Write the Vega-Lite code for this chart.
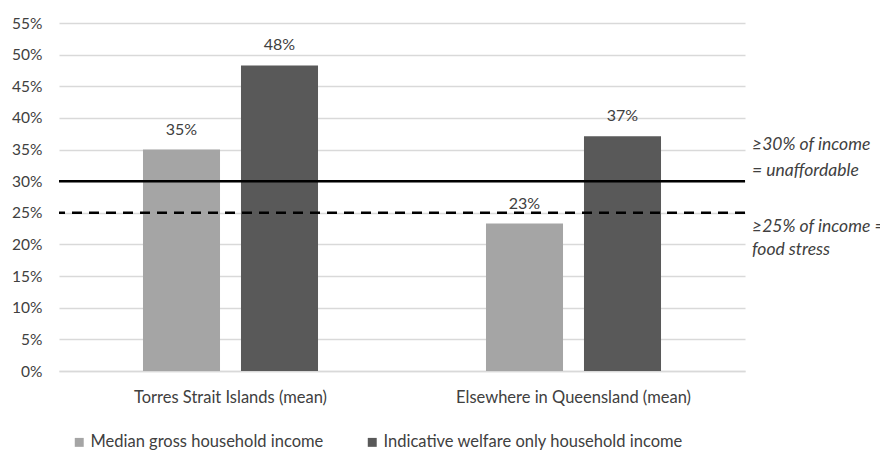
{
  "$schema": "https://vega.github.io/schema/vega-lite/v6.json",
  "width": 686,
  "height": 348,
  "autosize": {"type": "none"},
  "padding": {"left": 59, "top": 23, "right": 135, "bottom": 81},
  "background": "white",
  "config": {
    "view": {"stroke": null},
    "font": "Lato",
    "text": {"font": "Lato"}
  },
  "datasets": {
    "bars": [
      {"region": "Torres Strait Islands (mean)", "series": "Median gross household income", "value": 35.0, "label": "35%"},
      {"region": "Torres Strait Islands (mean)", "series": "Indicative welfare only household income", "value": 48.3, "label": "48%"},
      {"region": "Elsewhere in Queensland (mean)", "series": "Median gross household income", "value": 23.3, "label": "23%"},
      {"region": "Elsewhere in Queensland (mean)", "series": "Indicative welfare only household income", "value": 37.1, "label": "37%"}
    ],
    "thresholds": [
      {"value": 30, "kind": "solid"},
      {"value": 25, "kind": "dashed"}
    ],
    "notes": [
      {"region": "Elsewhere in Queensland (mean)", "value": 30, "text": ["≥30% of income", "= unaffordable"]},
      {"region": "Elsewhere in Queensland (mean)", "value": 25, "text": ["≥25% of income =", "food stress"]}
    ]
  },
  "encoding": {
    "y": {
      "field": "value", "type": "quantitative",
      "scale": {"domain": [0, 55], "nice": false},
      "axis": {"title": null, "values": [0,5,10,15,20,25,30,35,40,45,50,55], "labelExpr": "datum.value + '%'", "labelOverlap": false, "ticks": false, "domain": false, "gridColor": "#D9D9D9", "gridWidth": 1.5, "labelFontSize": 15.5, "labelColor": "#404040", "labelPadding": 17, "labelFont": "Lato"}
    }
  },
  "layer": [
    {
      "data": {"name": "bars"},
      "mark": {"type": "bar"},
      "encoding": {
        "x": {
          "field": "region", "type": "nominal", "sort": null,
          "scale": {"paddingInner": 0, "paddingOuter": 0},
          "axis": {"title": null, "labelAngle": 0, "ticks": false, "domainColor": "#D9D9D9", "domainWidth": 1.5, "labelFontSize": 16.5, "labelColor": "#404040", "labelPadding": 18, "labelFont": "Lato", "labelLimit": 400}
        },
        "xOffset": {
          "field": "series", "type": "nominal", "sort": ["Median gross household income", "Indicative welfare only household income"],
          "scale": {"paddingInner": 0.214, "paddingOuter": 0.857}
        },
        "color": {
          "field": "series", "type": "nominal",
          "scale": {"domain": ["Median gross household income", "Indicative welfare only household income"], "range": ["#A5A5A5", "#595959"]},
          "legend": {"title": null, "orient": "none", "legendX": 12, "legendY": 411, "direction": "horizontal", "symbolType": "square", "symbolSize": 80, "symbolStrokeWidth": 0, "labelOffset": 3, "labelFontSize": 16.5, "labelColor": "#404040", "labelFont": "Lato", "columnPadding": 40, "labelLimit": 400}
        }
      }
    },
    {
      "data": {"name": "bars"},
      "mark": {"type": "text", "baseline": "bottom", "dy": -12, "fontSize": 16, "color": "#404040"},
      "encoding": {
        "x": {"field": "region", "type": "nominal", "sort": null},
        "xOffset": {"field": "series", "type": "nominal", "sort": ["Median gross household income", "Indicative welfare only household income"]},
        "text": {"field": "label"}
      }
    },
    {
      "data": {"name": "thresholds"},
      "transform": [{"filter": "datum.kind == 'solid'"}],
      "mark": {"type": "rule", "color": "black", "strokeWidth": 2.5},
      "encoding": {}
    },
    {
      "data": {"name": "thresholds"},
      "transform": [{"filter": "datum.kind == 'dashed'"}],
      "mark": {"type": "rule", "color": "black", "strokeWidth": 2.5, "strokeDash": [10, 7]},
      "encoding": {}
    },
    {
      "data": {"name": "notes"},
      "transform": [{"filter": "datum.value == 30"}],
      "mark": {"type": "text", "align": "left", "baseline": "bottom", "dx": 7, "dy": -27, "fontSize": 17.5, "fontStyle": "italic", "color": "#404040", "lineHeight": 26},
      "encoding": {
        "x": {"field": "region", "type": "nominal", "sort": null, "bandPosition": 1},
        "text": {"field": "text"}
      }
    },
    {
      "data": {"name": "notes"},
      "transform": [{"filter": "datum.value == 25"}],
      "mark": {"type": "text", "align": "left", "baseline": "top", "dx": 7, "dy": 5, "fontSize": 17.5, "fontStyle": "italic", "color": "#404040", "lineHeight": 23},
      "encoding": {
        "x": {"field": "region", "type": "nominal", "sort": null, "bandPosition": 1},
        "text": {"field": "text"}
      }
    }
  ]
}
